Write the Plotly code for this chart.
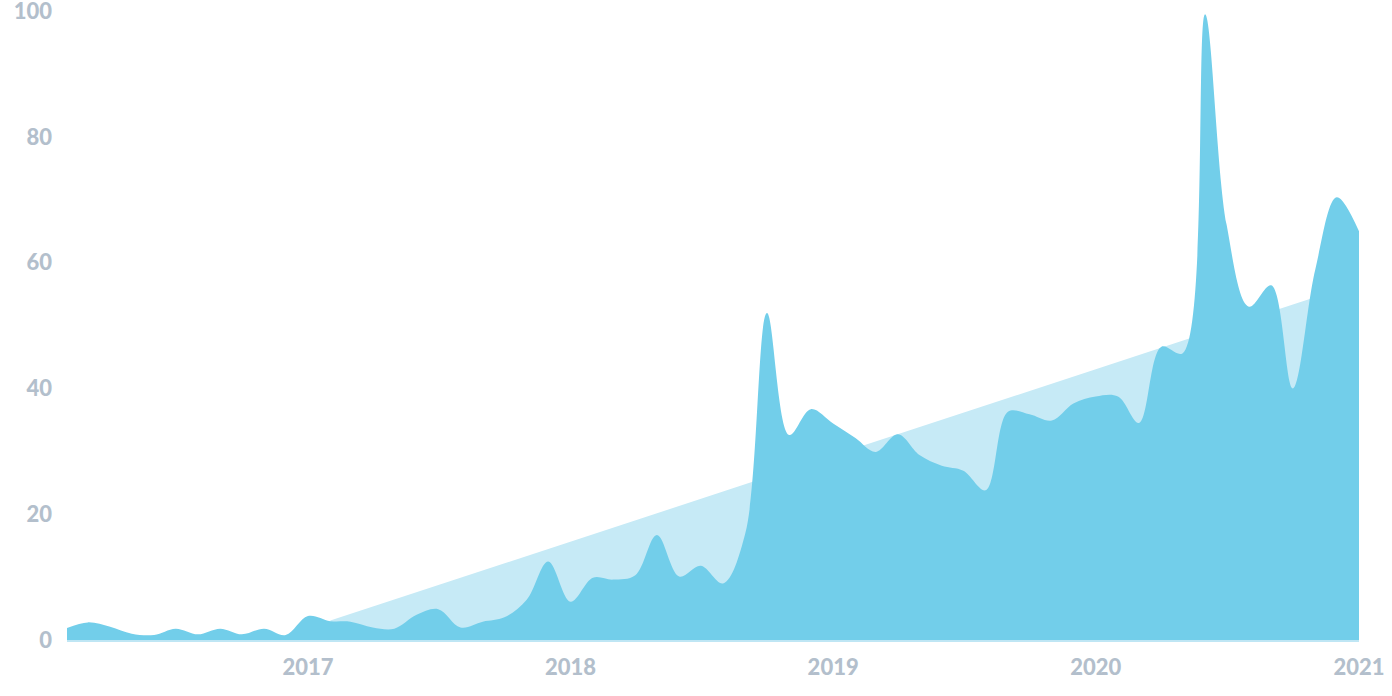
import plotly.graph_objects as go
import pandas as pd

# Monthly values, Feb 2016 .. Jan 2021
months = pd.date_range("2016-02-01", "2021-01-01", freq="MS")
values = [
    1.9, 2.8, 2.1, 1.0, 0.8, 1.8, 0.9, 1.8, 0.9, 1.8, 0.8,   # Feb-Dec 2016
    3.8, 3.0, 2.9, 2.0, 1.8, 4.0, 4.9, 2.0, 2.9, 3.6, 6.4, 12.5,  # 2017
    6.1, 9.9, 9.6, 10.3, 16.7, 10.1, 11.8, 9.0, 17.0, 52.0, 32.6, 36.7,  # 2018
    34.4, 32.1, 29.9, 32.7, 29.4, 27.7, 26.9, 23.8, 36.3, 35.9, 34.9, 37.6,  # 2019
    38.7, 38.7, 34.5, 46.6, 45.6, 99.5, 66.0, 53.0, 56.4, 40.0, 58.8, 70.4,  # 2020
    65.0,  # Jan 2021
]

# Linear trend (two end points)
trend_dates = ["2017-02-01", "2020-11-01"]
trend_values = [3.1, 54.5]

x_ticks = ["2017-01-01", "2018-01-01", "2019-01-01", "2020-01-01", "2021-01-01"]
x_tick_labels = ["2017", "2018", "2019", "2020", "2021"]
y_ticks = [0, 20, 40, 60, 80, 100]

label_font = dict(family="Lato, 'Open Sans', sans-serif", size=22, color="#B3BFCC", weight=900)

fig = go.Figure()
fig.add_trace(go.Scatter(
    x=trend_dates, y=trend_values, mode="lines", fill="tozeroy",
    line=dict(width=0, color="#C6EAF6"), fillcolor="#C6EAF6", hoverinfo="skip",
))
fig.add_trace(go.Scatter(
    x=months, y=values, mode="lines", fill="tozeroy",
    line=dict(width=0, color="#72CEEA", shape="spline", smoothing=1.0),
    fillcolor="#72CEEA",
))

fig.update_layout(
    width=1392, height=696,
    margin=dict(l=67, r=33, t=11, b=56),
    plot_bgcolor="white", paper_bgcolor="white",
    showlegend=False,
    xaxis=dict(
        range=["2016-02-01", "2021-01-01"],
        tickvals=x_ticks, ticktext=x_tick_labels,
        showgrid=False, zeroline=False,
        showline=True, linecolor="#BFE6F4", linewidth=2,
        ticks="", tickfont=label_font, ticklabelstandoff=7,
        automargin=False, ticklabeloverflow="allow",
    ),
    yaxis=dict(
        range=[0, 100],
        tickvals=y_ticks,
        showgrid=False, zeroline=False, showline=False,
        ticks="", tickfont=label_font, ticklabelstandoff=14,
        automargin=False, ticklabeloverflow="allow",
    ),
)

fig.write_html(
    "out.html",
    config={"displayModeBar": False},
    post_script="document.body.style.margin='0';document.body.style.overflow='hidden';",
)
